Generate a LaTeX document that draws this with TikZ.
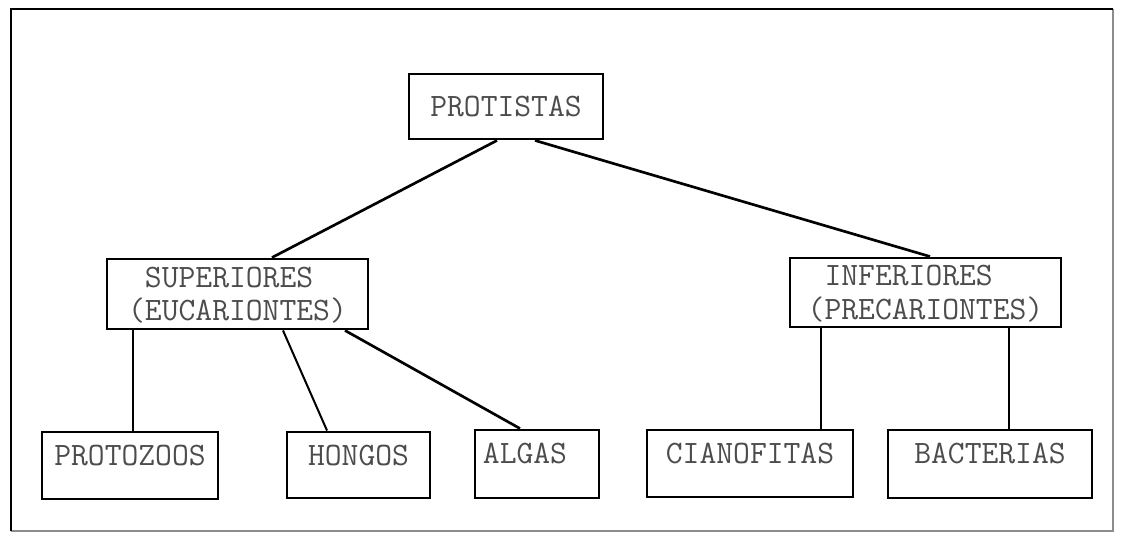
\documentclass[tikz,border=0pt]{standalone}
\usepackage{fontspec}
\begin{document}
\begin{tikzpicture}[x=0.75pt,y=-0.75pt,
  box/.style 2 args={draw=black, line width=2.2pt, rectangle, inner sep=0pt,
    minimum width=#1*0.75pt, minimum height=#2*0.75pt,
    font=\fontsize{24.5pt}{25pt}\ttfamily, text=black!70},
  leaf/.style={text height=9pt, text depth=9pt},
  twoline/.style={align=left},
  conn/.style={draw=black, line width=2pt},
  thin/.style={draw=black, line width=1.5pt}]
\useasboundingbox (0,0) rectangle (1121,541);
% outer frame
\draw[line width=1.2pt, black!45] (1113,9) -- (1113,531) -- (11,531);
\draw[line width=2pt] (11,531) -- (11,9) -- (1113,9);
% nodes
\node[box={194}{65}] (prot) at (506,106.5) {PROTISTAS};
\node[box={261}{70}, twoline] (sup) at (237.5,294) {\phantom{(}SUPERIORES\\(EUCARIONTES)};
\node[box={271}{69}, twoline] (inf) at (925.5,292.5) {\phantom{(}INFERIORES\\(PRECARIONTES)};
\node[box={176}{67}, leaf] (pz) at (130,465.5) {PROTOZOOS};
\node[box={143}{66}, leaf] (ho) at (358.5,465) {HONGOS};
\node[box={124}{68}, leaf] (al) at (537,464) {ALGAS\hspace*{18pt}};
\node[box={206}{67}, leaf] (ci) at (750,463.5) {CIANOFITAS};
\node[box={204}{68}, leaf] (ba) at (990,464) {BACTERIAS};
% connectors
\draw[conn] ([xshift=-6.75pt]prot.south) -- ([xshift=25.875pt]sup.north);
\draw[conn] ([xshift=21.75pt]prot.south) -- ([xshift=3.375pt]inf.north);
\draw[thin] ([xshift=-78.375pt]sup.south) -- ([xshift=2.25pt]pz.north);
\draw[thin] ([xshift=34.125pt]sup.south) -- ([xshift=-23.625pt]ho.north);
\draw[conn] ([xshift=80.625pt]sup.south) -- ([xshift=-12.75pt]al.north);
\draw[thin] ([xshift=-78.375pt]inf.south) -- ([xshift=53.25pt]ci.north);
\draw[thin] ([xshift=62.625pt]inf.south) -- ([xshift=14.25pt]ba.north);
\end{tikzpicture}
\end{document}
